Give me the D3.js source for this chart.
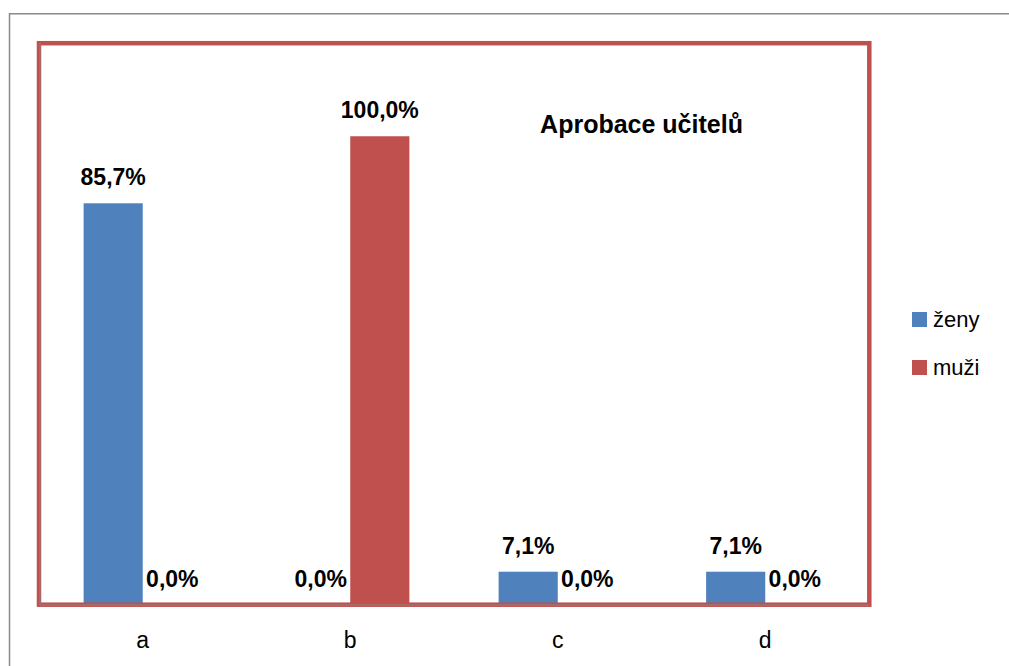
<!DOCTYPE html>
<html><head><meta charset="utf-8">
<script src="https://cdn.jsdelivr.net/npm/d3@7"></script>
<style>html,body{margin:0;padding:0;background:#fff;}svg{display:block;font-family:"Liberation Sans",Arial,sans-serif;}</style>
</head><body>
<script>
const categories = ["a", "b", "c", "d"];
const seriesNames = ["ženy", "muži"];
const zeny = [0.857, 0.0, 0.071, 0.071];
const muzi = [0.0, 1.0, 0.0, 0.0];
const seriesColors = ["#4F81BD", "#C0504D"];
const title = "Aprobace učitelů";

const W = 1009, H = 666;
const svg = d3.select("body").append("svg").attr("width", W).attr("height", H);

const plot = {left: 39, right: 869, top: 42.5, bottom: 605};
const x = d3.scaleBand().domain(categories).range([plot.left, plot.right]).paddingInner(0.43).paddingOuter(0.215);
const xs = d3.scaleBand().domain(seriesNames).range([0, x.bandwidth()]);
const y = d3.scaleLinear().domain([0, 1.2]).range([plot.bottom, plot.top]);

// outer chart border
svg.append("rect").attr("x", 9.5).attr("y", 13.75).attr("width", 1010).attr("height", 700)
  .attr("fill", "none").attr("stroke", "#8a8a8a").attr("stroke-width", 1.5);

const data = [];
categories.forEach((c, i) => {
  data.push({cat: c, s: seriesNames[0], v: zeny[i], color: seriesColors[0]});
  data.push({cat: c, s: seriesNames[1], v: muzi[i], color: seriesColors[1]});
});

svg.append("g").selectAll("rect").data(data).join("rect")
  .attr("x", d => x(d.cat) + xs(d.s))
  .attr("width", xs.bandwidth())
  .attr("y", d => y(d.v))
  .attr("height", d => y(0) - y(d.v))
  .attr("fill", d => d.color);

const fmt = v => (v * 100).toFixed(1).replace(".", ",") + "%";
svg.append("g").selectAll("text").data(data).join("text")
  .attr("x", d => x(d.cat) + xs(d.s) + xs.bandwidth() / 2)
  .attr("y", d => y(d.v) - 18)
  .attr("text-anchor", "middle")
  .attr("font-size", 23).attr("font-weight", "bold").attr("fill", "#000")
  .text(d => fmt(d.v));

// plot area border
svg.append("rect").attr("x", plot.left).attr("y", 43.2)
  .attr("width", plot.right + 0.3 - plot.left).attr("height", 604.7 - 43.2)
  .attr("fill", "none").attr("stroke", "#C0504D").attr("stroke-width", 4.5);
// axis lines
svg.append("line").attr("x1", 40).attr("x2", 40).attr("y1", 43).attr("y2", 605)
  .attr("stroke", "#868686").attr("stroke-width", 1);
svg.append("line").attr("x1", 40).attr("x2", 869).attr("y1", 605).attr("y2", 605)
  .attr("stroke", "#868686").attr("stroke-width", 1);

// x axis labels
const xAxis = d3.axisBottom(x).tickSize(0).tickPadding(0);
const gx = svg.append("g").attr("transform", "translate(0,648)").call(xAxis);
gx.select(".domain").remove();
gx.selectAll("text").attr("font-size", 23).attr("font-family", "Liberation Sans, Arial, sans-serif")
  .attr("fill", "#000").attr("dy", 0);

// title
svg.append("text").attr("x", 641.5).attr("y", 133).attr("text-anchor", "middle")
  .attr("font-size", 25).attr("font-weight", "bold").text(title);

// legend
const lg = svg.append("g").selectAll("g").data(seriesNames).join("g")
  .attr("transform", (d, i) => `translate(912,${312 + i * 48})`);
lg.append("rect").attr("width", 15).attr("height", 15).attr("fill", (d, i) => seriesColors[i]);
lg.append("text").attr("x", 21).attr("y", 15).attr("font-size", 22).attr("fill", "#000").text(d => d);
</script>
</body></html>
